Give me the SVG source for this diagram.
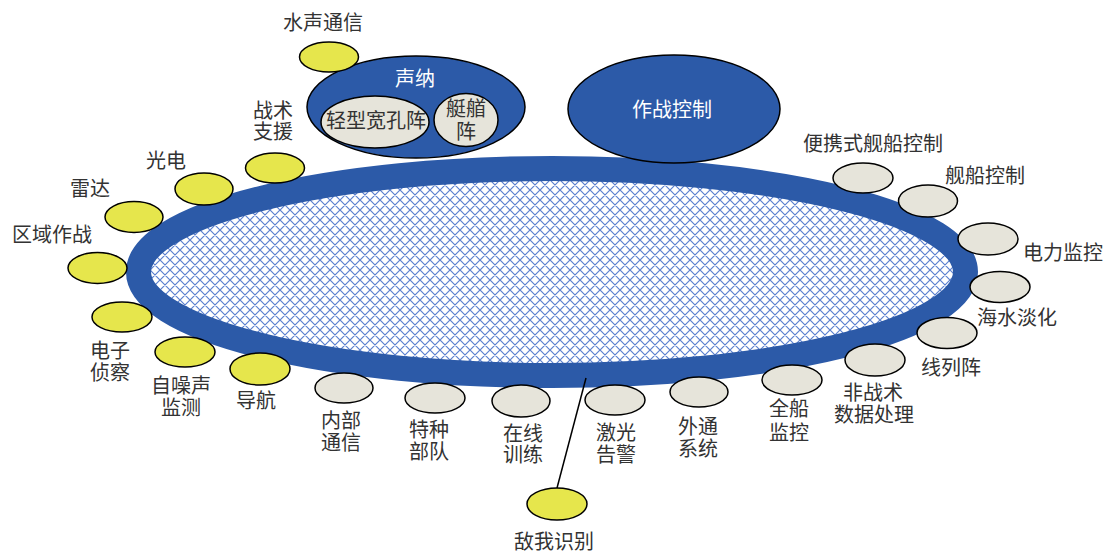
<svg xmlns="http://www.w3.org/2000/svg" width="1109" height="553" viewBox="0 0 1109 553">
<defs>
<pattern id="hatch" patternUnits="userSpaceOnUse" width="10" height="10">
<rect width="10" height="10" fill="#ffffff"/>
<path d="M0,0 L10,10 M10,0 L0,10 M-1,9 L1,11 M9,-1 L11,1 M-1,1 L1,-1 M9,11 L11,9" stroke="#5b80cf" stroke-width="1.2" fill="none"/>
</pattern>
<style>
.lbl{font-family:"Noto Sans CJK SC","Noto Sans CJK JP",sans-serif;font-size:20px;fill:#333333;text-anchor:middle}
.wlbl{font-family:"Noto Sans CJK SC","Noto Sans CJK JP",sans-serif;font-size:20px;fill:#ffffff;text-anchor:middle}
.y{fill:#e6e64c;stroke:#000000;stroke-width:1.5}
.g{fill:#e6e4da;stroke:#000000;stroke-width:1.5}
.b{fill:#2c5aa8;stroke:#000000;stroke-width:1.5}
.ln{stroke:#000000;stroke-width:1.5;fill:none}
</style>
</defs>
<rect width="1109" height="553" fill="#ffffff"/>

<g id="ring">
<ellipse cx="552" cy="272" rx="413.5" ry="103.5" fill="url(#hatch)" stroke="#2c5aa8" stroke-width="25"/>
</g>

<g id="connectors">
<line class="ln" x1="586" y1="378" x2="557" y2="488"/>
</g>

<g id="sonar">
<ellipse class="b" cx="416" cy="107" rx="109" ry="51"/>
<text class="wlbl" x="415" y="86">声纳</text>
</g>
<g id="light-wide-aperture">
<ellipse class="g" cx="375" cy="122" rx="54" ry="26"/>
<text class="lbl" x="376" y="128">轻型宽孔阵</text>
</g>
<g id="bow-array">
<ellipse class="g" cx="466" cy="120" rx="32" ry="26.5"/>
<text class="lbl" y="116"><tspan x="466">艇艏</tspan><tspan x="466" dy="23">阵</tspan></text>
</g>
<g id="combat-control">
<ellipse class="b" cx="674" cy="109" rx="106" ry="54"/>
<text class="wlbl" x="672" y="117">作战控制</text>
</g>

<g id="underwater-comm">
<ellipse class="y" cx="329" cy="57" rx="29.5" ry="15"/>
<text class="lbl" x="323" y="30">水声通信</text>
</g>
<g id="tactical-support">
<ellipse class="y" cx="275" cy="168" rx="29.5" ry="15"/>
<text class="lbl" y="118"><tspan x="273">战术</tspan><tspan x="273" dy="21">支援</tspan></text>
</g>
<g id="electro-optic">
<ellipse class="y" cx="204" cy="189" rx="29" ry="16"/>
<text class="lbl" x="166" y="168">光电</text>
</g>
<g id="radar">
<ellipse class="y" cx="134" cy="217" rx="29" ry="15.5"/>
<text class="lbl" x="90" y="196">雷达</text>
</g>
<g id="area-warfare">
<ellipse class="y" cx="97.5" cy="268" rx="29.5" ry="15.5"/>
<text class="lbl" x="52" y="242">区域作战</text>
</g>
<g id="esm">
<ellipse class="y" cx="122" cy="317" rx="30" ry="15"/>
<text class="lbl" y="358"><tspan x="110">电子</tspan><tspan x="110" dy="22">侦察</tspan></text>
</g>
<g id="self-noise">
<ellipse class="y" cx="185" cy="352" rx="30" ry="15"/>
<text class="lbl" y="393"><tspan x="181">自噪声</tspan><tspan x="181" dy="22">监测</tspan></text>
</g>
<g id="navigation">
<ellipse class="y" cx="260" cy="369" rx="30" ry="16"/>
<text class="lbl" x="256" y="408">导航</text>
</g>
<g id="iff">
<ellipse class="y" cx="557" cy="504" rx="30" ry="16"/>
<text class="lbl" x="554" y="549">敌我识别</text>
</g>

<g id="internal-comm">
<ellipse class="g" cx="344" cy="388" rx="29" ry="15"/>
<text class="lbl" y="428"><tspan x="341">内部</tspan><tspan x="341" dy="22">通信</tspan></text>
</g>
<g id="special-forces">
<ellipse class="g" cx="435" cy="398" rx="30" ry="15"/>
<text class="lbl" y="437"><tspan x="429">特种</tspan><tspan x="429" dy="22">部队</tspan></text>
</g>
<g id="online-training">
<ellipse class="g" cx="521" cy="401" rx="29" ry="16"/>
<text class="lbl" y="441"><tspan x="523">在线</tspan><tspan x="523" dy="21">训练</tspan></text>
</g>
<g id="laser-warning">
<ellipse class="g" cx="615" cy="400" rx="30" ry="15"/>
<text class="lbl" y="440"><tspan x="616">激光</tspan><tspan x="616" dy="22">告警</tspan></text>
</g>
<g id="external-comm">
<ellipse class="g" cx="699" cy="392" rx="29" ry="15"/>
<text class="lbl" y="434"><tspan x="698">外通</tspan><tspan x="698" dy="22">系统</tspan></text>
</g>
<g id="ship-monitor">
<ellipse class="g" cx="792" cy="380" rx="30" ry="15"/>
<text class="lbl" y="416"><tspan x="789">全船</tspan><tspan x="789" dy="24">监控</tspan></text>
</g>
<g id="non-tactical">
<ellipse class="g" cx="875" cy="360" rx="30" ry="16"/>
<text class="lbl" y="400"><tspan x="873">非战术</tspan><tspan x="874" dy="22">数据处理</tspan></text>
</g>
<g id="line-array">
<ellipse class="g" cx="947" cy="333" rx="30" ry="15.5"/>
<text class="lbl" x="951" y="375">线列阵</text>
</g>
<g id="desalination">
<ellipse class="g" cx="1000" cy="287" rx="30" ry="15.5"/>
<text class="lbl" x="1017" y="325">海水淡化</text>
</g>
<g id="power-monitor">
<ellipse class="g" cx="988" cy="239" rx="30" ry="16"/>
<text class="lbl" x="1063" y="260">电力监控</text>
</g>
<g id="ship-control">
<ellipse class="g" cx="928" cy="201" rx="29.5" ry="16"/>
<text class="lbl" x="985" y="183">舰船控制</text>
</g>
<g id="portable-ship-control">
<ellipse class="g" cx="863" cy="178" rx="30" ry="15"/>
<text class="lbl" x="873" y="151">便携式舰船控制</text>
</g>
</svg>
